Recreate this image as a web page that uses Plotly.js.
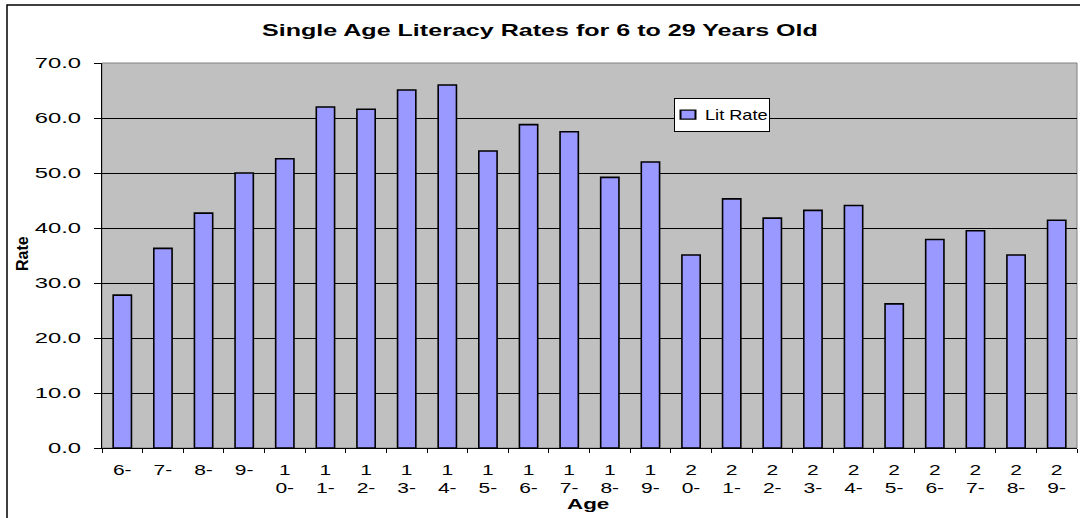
<!DOCTYPE html>
<html>
<head>
<meta charset="utf-8">
<script src="https://cdn.plot.ly/plotly-3.0.1.min.js"></script>
<style>html,body{margin:0;padding:0;background:#fff;}#chart{width:1080px;height:518px;}</style>
</head>
<body>
<div id="chart"></div>
<script>
const ages = ["6-","7-","8-","9-","1<br>0-","1<br>1-","1<br>2-","1<br>3-","1<br>4-","1<br>5-","1<br>6-","1<br>7-","1<br>8-","1<br>9-","2<br>0-","2<br>1-","2<br>2-","2<br>3-","2<br>4-","2<br>5-","2<br>6-","2<br>7-","2<br>8-","2<br>9-"];
const litRate = [27.8,36.3,42.7,50.0,52.6,62.0,61.6,65.1,66.0,54.0,58.8,57.5,49.2,52.0,35.1,45.3,41.8,43.2,44.1,26.2,37.9,39.5,35.1,41.4];
const yTicks = [0,10,20,30,40,50,60,70];

const W = 1080, H = 518, L = 102, R = 3, T = 63, B = 70;
const pw = W - L - R, ph = H - T - B;
const px = v => (v - L) / pw;
const py = v => (H - B - v) / ph;

const font = "Liberation Sans, Arial, sans-serif";

const data = [{
  type: "bar",
  x: ages,
  y: litRate,
  name: "Lit Rate",
  marker: {color: "#9999FF", line: {color: "#000000", width: 1.6}},
  hoverinfo: "x+y"
}];

const layout = {
  width: W, height: H,
  margin: {l: L, r: R, t: T, b: B, pad: 0},
  paper_bgcolor: "#FFFFFF",
  plot_bgcolor: "#C0C0C0",
  bargap: 0.55,
  showlegend: true,
  legend: {
    x: px(674), y: py(98), xanchor: "left", yanchor: "top",
    bgcolor: "#FFFFFF", bordercolor: "#000000", borderwidth: 1,
    font: {family: font, size: 14, color: "#000"},
    itemwidth: 30, tracegroupgap: 0
  },
  font: {family: font, color: "#000"},
  xaxis: {
    type: "category",
    tickson: "boundaries",
    ticks: "outside", ticklen: 4, tickcolor: "#000", tickwidth: 1,
    showline: true, linecolor: "#000", linewidth: 1,
    showgrid: false,
    tickfont: {family: font, size: 14, color: "#000"},
    ticklabelstandoff: 9,
    tickangle: 0,
    fixedrange: true
  },
  yaxis: {
    range: [0, 70],
    tickvals: yTicks,
    tickformat: ".1f",
    ticks: "outside", ticklen: 7, tickcolor: "#000", tickwidth: 1,
    showline: true, linecolor: "#000", linewidth: 1,
    showgrid: true, gridcolor: "#000", gridwidth: 1,
    zeroline: false,
    tickfont: {family: font, size: 14, color: "#000"},
    ticklabelstandoff: 10,
    fixedrange: true
  },
  annotations: [
    {text: "<b>Single Age Literacy Rates for 6 to 29 Years Old</b>", xref: "paper", yref: "paper",
     x: px(540), y: py(30), xanchor: "center", yanchor: "middle", showarrow: false,
     font: {family: font, size: 16.5, color: "#000"}},
    {text: "<b>Rate</b>", xref: "paper", yref: "paper", textangle: -90,
     x: px(22), y: py(254), xanchor: "center", yanchor: "middle", showarrow: false,
     font: {family: font, size: 16, color: "#000"}},
    {text: "<b>Age</b>", xref: "paper", yref: "paper",
     x: px(588), y: py(504), xanchor: "center", yanchor: "middle", showarrow: false,
     font: {family: font, size: 14, color: "#000"}}
  ],
  shapes: [
    {type: "rect", xref: "paper", yref: "paper", x0: 0, x1: 1, y0: 0, y1: 1,
     line: {color: "#808080", width: 1}, layer: "below"},
    {type: "path", xref: "paper", yref: "paper",
     path: `M ${px(7)} ${py(530)} L ${px(7)} ${py(5)} L ${px(1090)} ${py(5)}`,
     line: {color: "#000", width: 1.5}}
  ]
};

// widen text horizontally (the reference uses a horizontally stretched font)
function stretch(el, s, dx) {
  const bb = el.getBBox();
  const anchor = el.getAttribute("text-anchor") || "start";
  let ax = bb.x;
  if (anchor === "middle") ax = bb.x + bb.width / 2;
  else if (anchor === "end") ax = bb.x + bb.width;
  const old = el.getAttribute("transform") || "";
  el.setAttribute("transform", `${old} translate(${ax + (dx || 0)},0) scale(${s},1) translate(${-ax},0)`);
}

Plotly.newPlot("chart", data, layout, {displayModeBar: false, staticPlot: true}).then(gd => {
  gd.querySelectorAll(".ytick text").forEach(t => stretch(t, 1.7));
  gd.querySelectorAll(".xtick text").forEach(t => stretch(t, 1.5));
  gd.querySelectorAll(".annotation-text").forEach(t => {
    const s = t.textContent;
    if (s.indexOf("Single") === 0) stretch(t, 1.52);
    else if (s === "Age") stretch(t, 1.6);
  });
  gd.querySelectorAll(".legendtext").forEach(t => stretch(t, 1.3, -10));
  gd.querySelectorAll(".legendpoints path").forEach(p => {
    const old = p.getAttribute("transform") || "";
    p.setAttribute("transform", `${old} translate(-7,0) scale(1.25,0.75)`);
  });
});
</script>
</body>
</html>
